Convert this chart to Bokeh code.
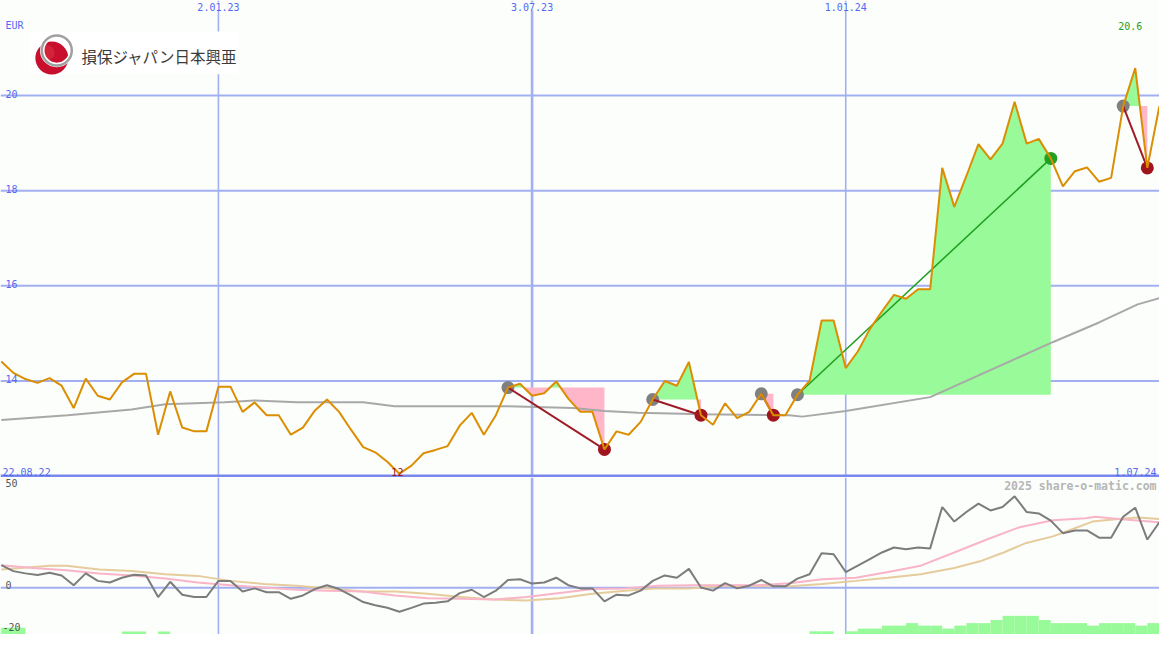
import numpy as np
import pandas as pd
from bokeh.plotting import figure
from bokeh.layouts import column
from bokeh.models import Range1d, Span, Label
from bokeh.embed import file_html
from bokeh.resources import INLINE

# ---------------- data (weekly closes, 29.08.22 .. 1.07.24) ----------------
start_date = "2022-08-29"
n_weeks = 97
currency = "EUR"

price = [14.41, 14.17, 14.04, 13.96, 14.06, 13.90, 13.43, 14.05, 13.69, 13.61,
         13.97, 14.15, 14.15, 12.87, 13.78, 13.02, 12.94, 12.94, 13.88, 13.88,
         13.35, 13.55, 13.28, 13.28, 12.87, 13.02, 13.38, 13.61, 13.35, 12.97,
         12.61, 12.50, 12.30, 12.05, 12.22, 12.48, 12.55, 12.63, 13.06, 13.33,
         12.87, 13.28, 13.86, 13.94, 13.69, 13.74, 13.99, 13.63, 13.35, 13.35,
         12.56, 12.94, 12.87, 13.14, 13.61, 14.00, 13.90, 14.40, 13.28, 13.08,
         13.53, 13.22, 13.35, 13.73, 13.28, 13.28, 13.71, 14.00, 15.27, 15.27,
         14.27, 14.62, 15.09, 15.46, 15.81, 15.73, 15.93, 15.93, 18.48, 17.66,
         18.31, 18.98, 18.66, 18.99, 19.87, 18.99, 19.09, 18.68, 18.09, 18.41,
         18.49, 18.19, 18.27, 19.78, 20.58, 18.48, 19.78]

# long moving average (read at sample weeks)
ma_week = [0, 5.5, 10.8, 13.6, 18.5, 21, 24.5, 30, 32.6, 42, 47.4, 50, 52.8,
           58.2, 65.3, 66.4, 70, 77, 80, 83.6, 87.2, 91, 94.2, 96]
ma_val = [13.18, 13.28, 13.40, 13.51, 13.55, 13.59, 13.55, 13.55, 13.47, 13.47,
          13.43, 13.37, 13.33, 13.30, 13.28, 13.25, 13.37, 13.66, 14.00, 14.41,
          14.82, 15.23, 15.61, 15.74]

# lower panel: oscillator (weekly)
osc = [9.9, 7.3, 6.3, 5.6, 6.6, 5.4, 1.1, 6.3, 3.0, 2.3,
       4.4, 5.7, 5.4, -4.1, 2.6, -3.1, -4.1, -4.1, 3.0, 3.0,
       -1.7, -0.3, -2.0, -2.0, -4.9, -3.4, -0.6, 1.1, -0.6, -3.4,
       -6.3, -7.7, -8.8, -10.6, -8.9, -7.0, -6.6, -6.0, -2.4, -0.9,
       -4.1, -1.3, 3.4, 3.7, 1.8, 2.3, 4.4, 1.1, -0.3, -0.3,
       -6.0, -3.1, -3.4, -1.3, 3.0, 5.4, 4.4, 8.3, 0.1, -1.3,
       2.0, -0.3, 0.9, 3.4, 0.6, 0.6, 4.0, 5.9, 15.2, 14.7,
       6.9, 9.7, 12.6, 15.5, 17.7, 16.9, 17.7, 17.3, 35.5, 29.1,
       33.3, 37.0, 34.0, 35.5, 40.2, 33.3, 32.7, 29.5, 24.0, 25.2,
       25.2, 22.0, 22.0, 31.2, 35.2, 21.2, 28.8]

pink_week = [0, 2.63, 5.41, 8.11, 10.81, 13.59, 16.29, 18.99, 21.77, 24.46,
             27.16, 29.94, 32.64, 35.34, 38.12, 40.82, 43.52, 46.3, 49.0, 51.7,
             54.47, 57.17, 62.65, 65.35, 68.05, 70.83, 73.52, 76.22, 79.0, 81.7,
             84.4, 87.18, 89.88, 90.7, 92.58, 96]
pink_val = [9.9, 8.7, 7.7, 6.3, 5.4, 4.0, 2.3, 1.1, 0.1, -0.9,
            -1.3, -1.7, -3.4, -4.6, -4.9, -5.2, -4.1, -2.3, -0.6, -0.3,
            0.9, 1.1, 1.1, 2.0, 3.7, 4.4, 6.9, 9.7, 15.5, 21.2,
            26.6, 29.7, 30.6, 31.2, 30.2, 28.8]

tan_week = [0, 4.02, 5.41, 8.11, 10.81, 13.59, 16.29, 18.99, 21.77, 24.46,
            27.16, 29.94, 32.64, 35.34, 38.12, 40.82, 43.52, 46.3, 49.0, 51.7,
            54.47, 57.17, 59.87, 65.35, 68.05, 70.83, 73.52, 76.22, 79.0, 81.13,
            83.09, 84.97, 87.18, 88.49, 90.45, 92.58, 94.21, 96]
tan_val = [8.0, 9.7, 9.7, 8.0, 7.3, 5.9, 5.2, 3.0, 1.6, 0.9,
           -0.3, -1.7, -1.7, -2.7, -4.1, -5.2, -5.6, -4.6, -2.7, -1.3,
           -0.3, -0.3, 0.9, 0.6, 1.6, 3.0, 4.4, 5.9, 8.7, 11.6,
           15.5, 19.7, 22.6, 25.2, 29.1, 30.2, 30.9, 30.2]

bar_week = [0, 1, 2, 11, 12, 14, 68, 69, 71, 72, 73, 74, 75, 76, 77, 78, 79, 80,
            81, 82, 83, 84, 85, 86, 87, 88, 89, 90, 91, 92, 93, 94, 95, 96]
bar_val = [-17.6, -17.6, -17.6, -19.3, -19.3, -19.3, -19.2, -19.2, -19.2, -18.0,
           -18.0, -16.7, -16.7, -15.6, -16.7, -16.7, -18.0, -16.7, -15.6, -15.6,
           -14.2, -12.4, -12.4, -12.4, -14.2, -15.6, -15.6, -15.6, -16.7, -15.6,
           -15.6, -15.6, -16.7, -15.6]

trade_in = ["2023-06-19", "2023-09-11", "2023-11-13", "2023-12-04", "2024-06-10"]
trade_out = ["2023-08-14", "2023-10-09", "2023-11-20", "2024-04-29", "2024-06-24"]
trade_win = [False, False, False, True, False]

grid_dates = ["2023-01-02", "2023-07-03", "2024-01-01"]
grid_labels = ["2.01.23", "3.07.23", "1.01.24"]
first_label = "22.08.22"
last_label = "1.07.24"
price_levels = [20, 18, 16, 14]
price_level_labels = ["20", "18", "16", "14"]
min_label = "12"
max_label = "20.6"
osc_labels = ["50", "0", "-20"]
company = "損保ジャパン日本興亜"
credit = "2025 share-o-matic.com"

# ---------------- helpers ----------------
t0 = pd.Timestamp(start_date)
dates = pd.date_range(t0, periods=n_weeks, freq="7D")
DAY = 86400000.0


def wk(w):
    return t0 + pd.to_timedelta(np.atleast_1d(np.asarray(w, dtype=float)) * 7, unit="D")


def ms(ts):
    return pd.Timestamp(ts).value / 1e6


def idx(d):
    return dates.get_loc(pd.Timestamp(d))


W, H = 1159, 634
H1 = 477
H2 = H - H1
bg = "#fbfefb"
grid_c = "#a2b0f2"
blue_txt = "#5468f0"
mono = "DejaVu Sans Mono"

xr = Range1d(ms(t0) - 0.46 * DAY, ms(dates[-1]) + 0.07 * DAY)


def make_fig(h, yr):
    f = figure(width=W, height=h, x_range=xr, y_range=yr,
               x_axis_location=None, y_axis_location=None,
               toolbar_location=None, output_backend="svg", min_border=0,
               background_fill_color=bg, border_fill_color=bg,
               outline_line_color=None)
    f.xgrid.visible = False
    f.ygrid.visible = False
    return f


top = make_fig(H1, Range1d(11.97, 22.0))
bot = make_fig(H2, Range1d(-20.6, 48.5))

vwidths = [1.6, 2.6, 1.6]
for f in (top, bot):
    for d, lw in zip(grid_dates, vwidths):
        f.add_layout(Span(location=ms(d), dimension="height", line_color=grid_c,
                          line_width=lw, level="underlay"))

# ---------------- top panel ----------------
for v in price_levels:
    top.add_layout(Span(location=v, dimension="width", line_color=grid_c,
                        line_width=2, level="underlay"))
top.add_layout(Span(location=12, dimension="width", line_color="#7a88ee",
                    line_width=3, level="underlay"))

# logo (decoration)
top.quad(left=wk(2.3), right=wk(19.6), bottom=[20.45], top=[21.35],
         fill_color="#ffffff", line_color=None)
top.scatter(x=wk(4.19), y=[20.79], size=33, fill_color="#c8102e", line_color=None)
top.scatter(x=wk(3.8), y=[20.9], size=15, fill_color="#e4404e", fill_alpha=0.4,
            line_color=None)
top.scatter(x=wk(4.6), y=[20.95], size=29, fill_color=None, line_color="#ffffff",
            line_width=4.5)
top.scatter(x=wk(4.6), y=[20.95], size=30, fill_color=None, line_color="#a0a0a0",
            line_width=2.5)
top.add_layout(Label(x=ms(wk(6.64)[0]), y=20.83, text=company,
                     text_font="Noto Sans CJK JP", text_font_size="15.5px",
                     text_color="#3a3a3a", text_baseline="middle", text_align="left"))

# trade fills
for tin, tout in zip(trade_in, trade_out):
    i0, i1 = idx(tin), idx(tout)
    lvl = price[i0]
    xs, hi, lo = [], [], []
    for k in range(i0, i1 + 1):
        if k > i0:
            a, b = price[k - 1] - lvl, price[k] - lvl
            if a * b < 0:
                t = a / (a - b)
                xs.append(k - 1 + t); hi.append(lvl); lo.append(lvl)
        xs.append(k); hi.append(max(price[k], lvl)); lo.append(min(price[k], lvl))
    xd = wk(xs)
    top.varea(x=xd, y1=[lvl] * len(xs), y2=hi, fill_color="#98fa98")
    top.varea(x=xd, y1=lo, y2=[lvl] * len(xs), fill_color="#ffb6c8")

top.line(wk(ma_week), ma_val, line_color="#a8a8a8", line_width=2)

ent = [idx(d) for d in trade_in]
ext = [idx(d) for d in trade_out]
top.scatter(x=dates[ent], y=[price[i] for i in ent], size=13,
            fill_color="#808080", line_color=None)
top.scatter(x=dates[ext], y=[price[i] for i in ext], size=13,
            fill_color=["#22a022" if w else "#a0141e" for w in trade_win],
            line_color=None)

for i0, i1, win in zip(ent, ext, trade_win):
    c = "#1e9e1e" if win else "#a01c28"
    top.segment(x0=dates[[i0]], y0=[price[i0]], x1=dates[[i1]], y1=[price[i1]],
                line_color=c, line_width=1.5 if win else 2)

top.line(dates, price, line_color="#dc8e02", line_width=2)

# top texts
top.add_layout(Label(x=xr.start, y=22.0, x_offset=5, y_offset=-25, text=currency,
                     text_font=mono, text_font_size="10px", text_color=blue_txt,
                     text_baseline="alphabetic"))
for v, s in zip(price_levels, price_level_labels):
    top.add_layout(Label(x=xr.start, y=v, x_offset=5, y_offset=2, text=s,
                         text_font=mono, text_font_size="10px", text_color=blue_txt,
                         text_baseline="alphabetic"))
for d, s in zip(grid_dates, grid_labels):
    top.add_layout(Label(x=ms(d), y=22.0, y_offset=-2, text=s, text_font=mono,
                         text_font_size="10px", text_color=blue_txt,
                         text_baseline="top", text_align="center",
                         background_fill_color=bg))
top.add_layout(Label(x=xr.start, y=12, x_offset=2, y_offset=4.5, text=first_label,
                     text_font=mono, text_font_size="10px", text_color=blue_txt,
                     text_baseline="alphabetic"))
top.add_layout(Label(x=xr.end, y=12, x_offset=-3, y_offset=4.5, text=last_label,
                     text_font=mono, text_font_size="10px", text_color=blue_txt,
                     text_baseline="alphabetic", text_align="right"))
imin = int(np.argmin(price))
imax = int(np.argmax(price))
top.add_layout(Label(x=ms(dates[imin]), y=12, x_offset=-2, y_offset=4.5, text=min_label,
                     text_font=mono, text_font_size="10px", text_color="#a0141e",
                     text_baseline="alphabetic", text_align="center"))
top.add_layout(Label(x=ms(dates[imax]), y=22.0, x_offset=-5, y_offset=-25, text=max_label,
                     text_font=mono, text_font_size="10px", text_color="#22a022",
                     text_baseline="alphabetic", text_align="center"))

# ---------------- bottom panel ----------------
bot.add_layout(Span(location=0, dimension="width", line_color=grid_c,
                    line_width=2, level="underlay"))
bx = wk(np.asarray(bar_week) - 0.5)
bot.vbar(x=bx, width=7 * DAY, bottom=-25, top=bar_val, fill_color="#98fa98",
         line_color=None)
bot.line(wk(tan_week), tan_val, line_color="#e6cc9c", line_width=2)
bot.line(wk(pink_week), pink_val, line_color="#f9b4c8", line_width=2)
bot.line(dates, osc, line_color="#7c7c7c", line_width=2)

bot.add_layout(Label(x=xr.start, y=48.5, x_offset=5, y_offset=-1, text=osc_labels[0],
                     text_font=mono, text_font_size="10px", text_color="#555555",
                     text_baseline="top"))
bot.add_layout(Label(x=xr.start, y=0, x_offset=5, y_offset=3, text=osc_labels[1],
                     text_font=mono, text_font_size="10px", text_color="#555555",
                     text_baseline="alphabetic"))
bot.add_layout(Label(x=xr.start, y=-20.6, x_offset=2, y_offset=4, text=osc_labels[2],
                     text_font=mono, text_font_size="10px", text_color="#555555",
                     text_baseline="bottom"))
bot.add_layout(Label(x=xr.end, y=48.5, x_offset=-3, y_offset=-1, text=credit,
                     text_font=mono, text_font_size="11.5px", text_font_style="bold",
                     text_color="#b6b6b6", text_baseline="top", text_align="right"))

layout = column(top, bot, spacing=0)
open("out.html", "w").write(file_html(layout, INLINE))
